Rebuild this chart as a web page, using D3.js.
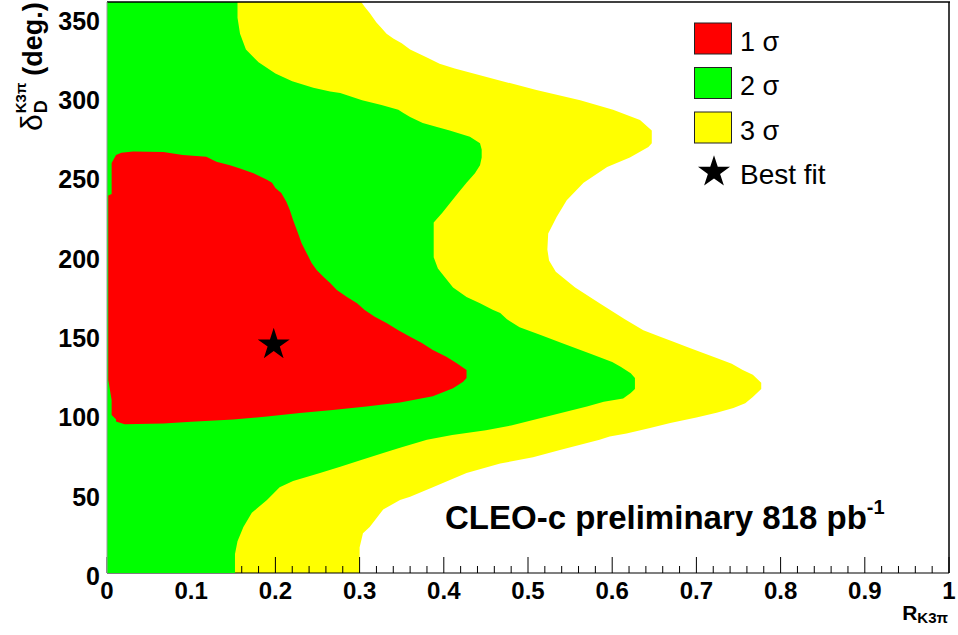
<!DOCTYPE html>
<html>
<head>
<meta charset="utf-8">
<script src="https://cdn.jsdelivr.net/npm/d3@7"></script>
<style>
html,body{margin:0;padding:0;background:#fff;}
svg{display:block;}
text{font-family:"Liberation Sans",Arial,Helvetica,sans-serif;}
</style>
</head>
<body>
<svg id="chart" width="958" height="635"></svg>
<script>
// ---------- data ----------
const xTicks = [0, 0.1, 0.2, 0.3, 0.4, 0.5, 0.6, 0.7, 0.8, 0.9, 1];
const xTickLabels = ["0", "0.1", "0.2", "0.3", "0.4", "0.5", "0.6", "0.7", "0.8", "0.9", "1"];
const yTicks = [0, 50, 100, 150, 200, 250, 300, 350];
const yTickLabels = ["0", "50", "100", "150", "200", "250", "300", "350"];

// 3 sigma region: right boundary [R, delta] (region extends from R = 0)
const sigma3Edge = [
  [0.300, 0], [0.300, 16], [0.304, 25], [0.312, 29], [0.328, 40], [0.348, 46], [0.360, 48],
  [0.387, 54], [0.427, 63], [0.467, 69], [0.506, 73], [0.538, 77.6], [0.585, 84], [0.597, 86],
  [0.617, 88], [0.645, 91.4], [0.669, 94.6], [0.700, 98], [0.724, 101], [0.744, 104],
  [0.758, 107], [0.767, 111], [0.777, 116], [0.777, 120], [0.767, 125], [0.755, 128],
  [0.742, 132], [0.724, 135.6], [0.708, 138.7], [0.689, 142.5], [0.672, 146], [0.657, 149],
  [0.647, 151], [0.637, 153], [0.615, 160], [0.585, 170], [0.556, 180], [0.533, 190],
  [0.525, 197], [0.523, 204], [0.524, 214], [0.534, 224.5], [0.546, 235], [0.566, 246],
  [0.594, 256], [0.621, 262], [0.643, 268.6], [0.647, 271], [0.647, 279], [0.633, 285.6],
  [0.601, 292], [0.562, 298], [0.510, 304.5], [0.463, 311], [0.413, 318], [0.395, 321],
  [0.380, 325], [0.360, 330], [0.350, 334], [0.340, 337], [0.332, 340], [0.326, 343.6],
  [0.320, 347], [0.316, 350], [0.312, 353], [0.306, 357], [0.302, 360]
];

// 2 sigma region: right boundary [R, delta] (region extends from R = 0)
const sigma2Edge = [
  [0.152, 0], [0.152, 12], [0.155, 20], [0.162, 29], [0.172, 38], [0.190, 46], [0.205, 54],
  [0.221, 58], [0.253, 63], [0.277, 67], [0.300, 71], [0.328, 75.6], [0.348, 79], [0.380, 84],
  [0.410, 87], [0.450, 90], [0.480, 93], [0.532, 100], [0.570, 105], [0.590, 108],
  [0.613, 110], [0.622, 113.5], [0.627, 116], [0.627, 123], [0.622, 126], [0.610, 130],
  [0.600, 133], [0.575, 138], [0.540, 145], [0.515, 150], [0.490, 155], [0.475, 160],
  [0.467, 164], [0.458, 166], [0.443, 170], [0.427, 174], [0.411, 180], [0.401, 186.6],
  [0.393, 192], [0.388, 199], [0.388, 216], [0.388, 221], [0.398, 227], [0.407, 233],
  [0.417, 239.6], [0.427, 246], [0.437, 252], [0.443, 257], [0.445, 262], [0.445, 267],
  [0.443, 271], [0.431, 275], [0.407, 279], [0.393, 281], [0.375, 283.7], [0.360, 287.5],
  [0.352, 290], [0.346, 292], [0.326, 295], [0.303, 298], [0.286, 301], [0.277, 302.6],
  [0.265, 303.5], [0.245, 306], [0.220, 310], [0.200, 315], [0.180, 322], [0.165, 330],
  [0.158, 340], [0.155, 350], [0.155, 360]
];

// 1 sigma region: closed boundary [R, delta]
const sigma1Edge = [
  [0.021, 93.8], [0.0107, 95.5], [0.0107, 97], [0.0055, 99.6], [0.0055, 109], [0.0015, 121.7],
  [0.0015, 238], [0.0055, 239], [0.0055, 258.5], [0.0107, 263.6], [0.017, 265], [0.031, 265.7],
  [0.067, 265.5], [0.090, 263.6], [0.118, 262.5], [0.130, 259.3], [0.146, 257], [0.158, 255],
  [0.174, 252], [0.182, 250], [0.190, 248], [0.196, 246], [0.200, 242.7], [0.207, 239.6],
  [0.213, 234], [0.217, 229], [0.221, 222.6], [0.227, 214], [0.231, 208], [0.237, 201.8],
  [0.243, 195.5], [0.249, 191], [0.257, 186.8], [0.265, 182.8], [0.273, 178.4], [0.285, 174],
  [0.297, 170], [0.306, 165.8], [0.318, 161.6], [0.332, 157.6], [0.346, 153], [0.360, 149],
  [0.374, 145], [0.387, 140.6], [0.403, 136.4], [0.415, 132.4], [0.427, 128], [0.427, 123],
  [0.423, 120.5], [0.411, 116.5], [0.387, 111.5], [0.348, 107.5], [0.308, 104.9],
  [0.268, 102.8], [0.229, 100.8], [0.190, 98.6], [0.150, 96.8], [0.100, 95.4], [0.067, 94.2]
];

const bestFit = [0.198, 144];

const legendLabels = ["1", "2", "3"];
const legendColors = ["#ff0000", "#00ff00", "#ffff00"];

// ---------- drawing ----------
const W = 958, H = 635;
const margin = {left: 107, top: 2, right: 9, bottom: 62};
const svg = d3.select("#chart");

const x = d3.scaleLinear().domain([0, 1]).range([margin.left, W - margin.right]);
const y = d3.scaleLinear().domain([0, 360]).range([H - margin.bottom, margin.top]);

svg.append("defs").append("clipPath").attr("id", "plotclip")
  .append("rect").attr("x", x(0)).attr("y", y(360))
  .attr("width", x(1) - x(0)).attr("height", y(0) - y(360));

const line = d3.line().x(d => x(d[0])).y(d => y(d[1]));

// layers in drawing order: yellow, x axis, green, red, marks/frame
const layerYellow = svg.append("g").attr("clip-path", "url(#plotclip)");
const layerAxis = svg.append("g");
const layerGreen = svg.append("g").attr("clip-path", "url(#plotclip)");
const layerRed = svg.append("g").attr("clip-path", "url(#plotclip)");
const layerTop = svg.append("g");

// 3 sigma (yellow)
layerYellow.append("path")
  .attr("d", line([[0, 0], ...sigma3Edge, [0, 360]]) + "Z")
  .attr("fill", "#ffff00").attr("stroke", "none");

// x axis (drawn under the green/red fills, as in the original)
const xAxisG = layerAxis.append("g").attr("transform", `translate(0,${y(0)})`);
xAxisG.append("line").attr("x1", x(0)).attr("x2", x(1)).attr("y1", 0).attr("y2", 0)
  .attr("stroke", "#000").attr("stroke-width", 1.2);
const minorVals = d3.range(0, 51).map(i => i / 50).filter((v, i) => i % 5 !== 0);
xAxisG.selectAll("line.minor").data(minorVals).enter().append("line")
  .attr("class", "minor")
  .attr("x1", d => x(d)).attr("x2", d => x(d)).attr("y1", 0).attr("y2", -7)
  .attr("stroke", "#000").attr("stroke-width", 1);
xAxisG.selectAll("line.major").data(xTicks).enter().append("line")
  .attr("class", "major")
  .attr("x1", d => x(d)).attr("x2", d => x(d)).attr("y1", 0).attr("y2", -16)
  .attr("stroke", "#000").attr("stroke-width", 1);

// 2 sigma (green)
layerGreen.append("path")
  .attr("d", line([[0, 0], ...sigma2Edge, [0, 360]]) + "Z")
  .attr("fill", "#00ff00").attr("stroke", "none");

// 1 sigma (red)
layerRed.append("path")
  .attr("d", line(sigma1Edge) + "Z")
  .attr("fill", "#ff0000").attr("stroke", "none");

// best fit star
const starSize = 318;
layerTop.append("path")
  .attr("d", d3.symbol(d3.symbolStar, starSize)())
  .attr("transform", `translate(${x(bestFit[0])},${y(bestFit[1])})`)
  .attr("fill", "#000");

// frame
layerTop.append("line").attr("x1", x(0)).attr("x2", x(1) + 1).attr("y1", y(360)).attr("y2", y(360))
  .attr("stroke", "#000").attr("stroke-width", 1.5);
layerTop.append("line").attr("x1", x(1)).attr("x2", x(1)).attr("y1", y(360)).attr("y2", y(0))
  .attr("stroke", "#000").attr("stroke-width", 1.5);
layerTop.append("line").attr("x1", x(0)).attr("x2", x(0)).attr("y1", y(360)).attr("y2", y(0))
  .attr("stroke", "#999").attr("stroke-width", 1);

// x tick labels
layerTop.selectAll("text.xlab").data(xTicks).enter().append("text")
  .attr("class", "xlab")
  .attr("x", d => x(d)).attr("y", y(0) + 26)
  .attr("text-anchor", "middle")
  .attr("font-size", 24).attr("font-weight", "bold")
  .text((d, i) => xTickLabels[i]);

// y tick labels
layerTop.selectAll("text.ylab").data(yTicks).enter().append("text")
  .attr("class", "ylab")
  .attr("x", x(0) - 7).attr("y", d => y(d) + 12)
  .attr("text-anchor", "end")
  .attr("font-size", 25).attr("font-weight", "bold")
  .text((d, i) => yTickLabels[i]);

// x axis title R_{K3pi}
const xt = layerTop.append("text").attr("text-anchor", "end").attr("font-weight", "bold")
  .attr("x", 948).attr("y", 620);
xt.append("tspan").attr("font-size", 21).text("R");
xt.append("tspan").attr("font-size", 15).attr("dy", 3).text("K3π");

// y axis title delta_D^{K3pi} (deg.)
const yt = layerTop.append("g").attr("transform", "translate(42,131) rotate(-90)");
const tDelta = yt.append("text").attr("x", 0).attr("y", 0)
  .attr("font-size", 30).text("δ");
const wDelta = tDelta.node().getComputedTextLength();
const tSup = yt.append("text").attr("x", wDelta + 1).attr("y", -16)
  .attr("font-size", 15).attr("font-weight", "bold").text("K3π");
const tSub = yt.append("text").attr("x", wDelta + 1).attr("y", 5)
  .attr("font-size", 18).attr("font-weight", "bold").text("D");
const wSS = Math.max(tSup.node().getComputedTextLength(), tSub.node().getComputedTextLength());
yt.append("text").attr("x", wDelta + 1 + wSS + 7).attr("y", 0)
  .attr("font-size", 27).attr("font-weight", "bold").text("(deg.)");

// CLEO-c label
const cl = layerTop.append("text").attr("x", 445).attr("y", 529)
  .attr("font-size", 33).attr("font-weight", "bold");
cl.append("tspan").text("CLEO-c preliminary 818 pb");
cl.append("tspan").attr("font-size", 20).attr("dy", -15).text("-1");

// legend
const lg = layerTop.append("g");
const rowY = [38.5, 83, 127.5, 172];
legendLabels.forEach((lab, i) => {
  lg.append("rect").attr("x", 694.5).attr("y", rowY[i] - 15.5).attr("width", 37).attr("height", 31)
    .attr("fill", legendColors[i]).attr("stroke", "#222").attr("stroke-width", 1);
  const t = lg.append("text").attr("x", 740).attr("y", rowY[i] + 12).attr("font-size", 27);
  t.text(lab + " σ");
});
lg.append("path").attr("d", d3.symbol(d3.symbolStar, starSize)())
  .attr("transform", `translate(714,${rowY[3]})`).attr("fill", "#000");
lg.append("text").attr("x", 740).attr("y", rowY[3] + 12).attr("font-size", 28).text("Best fit");
</script>
</body>
</html>
